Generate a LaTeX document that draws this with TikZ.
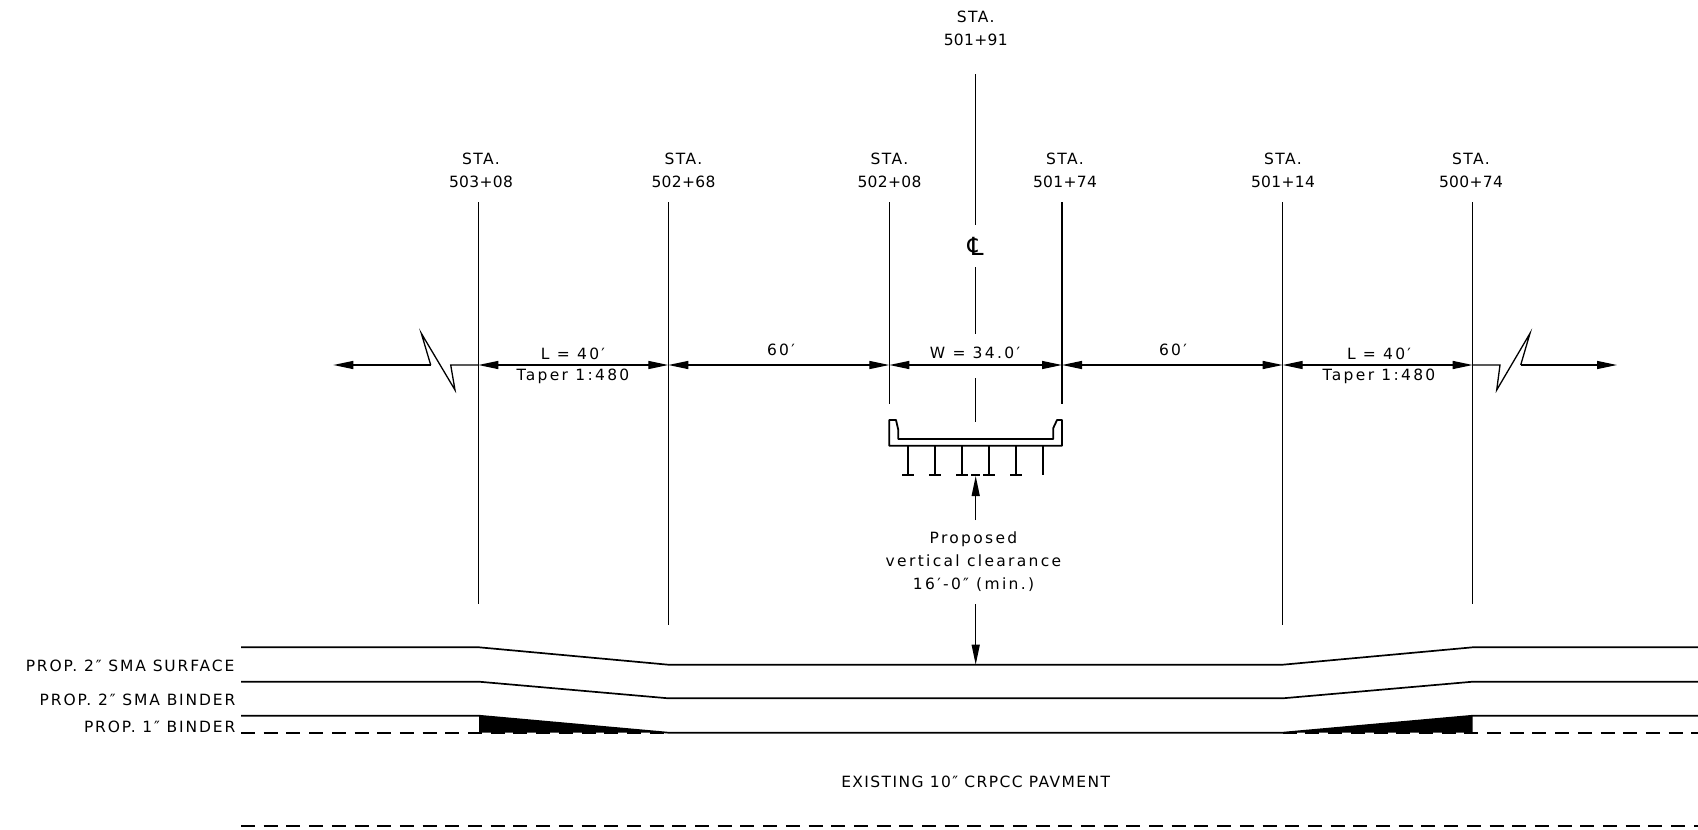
\documentclass[tikz,border=0pt]{standalone}
\usepackage{fontspec}
\setmainfont{DejaVu Sans}
\newfontfamily\capsfont[LetterSpace=9]{DejaVu Sans}
\newfontfamily\widefont[LetterSpace=12]{DejaVu Sans}
\newfontfamily\lowfont[LetterSpace=15]{DejaVu Sans}
\newfontfamily\numfont[LetterSpace=2]{DejaVu Sans}
\usetikzlibrary{arrows.meta}
\begin{document}
\begin{tikzpicture}
[x=1pt, y=-1pt, line width=1.3pt,
lbl/.style={inner sep=0pt, align=center, font=\fontsize{15.5}{23}\capsfont},
side/.style={inner sep=0pt, anchor=east, font=\fontsize{15.5}{23}\widefont},
txt/.style={inner sep=0pt, align=center, font=\fontsize{15.5}{23}\lowfont},
layer/.style={line width=1.7pt},
ground/.style={line width=1.7pt, dash pattern=on 14pt off 8.7pt},
dim/.style={{Triangle[length=20pt,width=8pt]}-{Triangle[length=20pt,width=8pt]}},
tipend/.style={-{Triangle[length=20pt,width=8pt]}},
deck/.style={line width=1.8pt, line join=round}]

\useasboundingbox (0,0) rectangle (1698,830);

% stations
\foreach \n/\x/\ybot/\xl/\sta in {a/478.3/604/481/503+08, b/668.3/625/683.5/502+68, c/889.3/404/889.5/502+08,
  d/1062/404/1065/501+74, e/1282.7/625/1283/501+14, f/1472.7/604/1471/500+74} {
  \coordinate (top\n) at (\x,202);
  \coordinate (bot\n) at (\x,\ybot);
  \coordinate (dim\n) at (\x,365);
  \draw (top\n) -- (bot\n);
  \node[lbl] (sta\n) at (\xl,170) {STA.\\{\numfont\sta}};
}
\node[lbl] (stacl) at (975.7,28) {STA.\\{\numfont 501+91}};

% centerline
\coordinate (cl0) at (975.7,74);
\coordinate (cl1) at (975.7,225);
\coordinate (cl2) at (975.7,267);
\coordinate (cl3) at (975.7,334);
\coordinate (cl4) at (975.7,378);
\coordinate (cl5) at (975.7,422);
\draw (cl0) -- (cl1);
\draw (cl2) -- (cl3);
\draw (cl4) -- (cl5);
\node[inner sep=0pt, font=\fontsize{25}{25}\selectfont] (clsym) at (975.7,246) {℄};

% dimension line
\coordinate (endl) at (333.3,365);
\coordinate (endr) at (1617,365);
\coordinate (zl0) at (430.7,365);
\coordinate (zl1) at (421.3,333.3);
\coordinate (zl2) at (455,390);
\coordinate (zl3) at (450.7,365);
\coordinate (zr0) at (1500,365);
\coordinate (zr1) at (1496.7,390);
\coordinate (zr2) at (1530,333.3);
\coordinate (zr3) at (1520.7,365);
\draw[{Triangle[length=20pt,width=8pt]}-] (endl) -- (zl0);
\draw (zl0) -- (zl1) -- (zl2) -- (zl3) -- (dima);
\draw (dimf) -- (zr0) -- (zr1) -- (zr2) -- (zr3);
\draw[tipend] (zr3) -- (endr);
\draw[dim] (dima) -- (dimb);
\draw[dim] (dimb) -- (dimc);
\draw[dim] (dimc) -- (dimd);
\draw[dim] (dimd) -- (dime);
\draw[dim] (dime) -- (dimf);

\node[txt] (la) at (573,353.5) {L = 40′};
\node[txt] (ta) at (573,376.5) {Taper 1:480};
\node[txt] (sixa) at (781,349.5) {60′};
\node[txt] (wid) at (975,352.5) {W = 34.0′};
\node[txt] (sixb) at (1173,349.5) {60′};
\node[txt] (lb) at (1379,353.5) {L = 40′};
\node[txt] (tb) at (1379,376.5) {Taper 1:480};

% bridge
\draw[deck] (889.3,420) -- (889.3,445.7) -- (1062,445.7) -- (1062,420) -- (1057,420)
  -- (1053.3,428) -- (1053.3,439) -- (898.3,439) -- (898.3,430) -- (896,420) -- cycle;
\foreach \x in {908.3,935.3,962,989,1016} {
  \draw[deck] (\x,445.7) -- (\x,475);
  \draw[deck] (\x-6,475) -- (\x+6,475);
}
\draw[deck] (1042.7,445.7) -- (1042.7,475);

% clearance
\coordinate (clr0) at (975.7,520);
\coordinate (clr1) at (975.7,476);
\coordinate (clr2) at (975.7,604);
\coordinate (clr3) at (975.7,664.7);
\draw[deck] (971,475) -- (980,475);
\draw[tipend] (clr0) -- (clr1);
\draw[tipend] (clr2) -- (clr3);
\node[txt] (clrtxt) at (973.5,561.5) {Proposed\\vertical clearance\\16′-0″ (min.)};

% pavement layers
\foreach \ya/\yb in {647.3/664.7, 681.7/698.3, 715.7/732.7} {
  \draw[layer] (241,\ya) -- (479,\ya) -- (668.3,\yb) -- (1282.7,\yb) -- (1472.7,\ya) -- (1698,\ya);
}
\fill (479,715.7) -- (479,732.7) -- (668.3,732.7) -- cycle;
\fill (1472.7,715.7) -- (1472.7,732.7) -- (1282.7,732.7) -- cycle;
\draw[ground] (241,732.7) -- (668.3,732.7);
\draw[ground] (1282.7,732.7) -- (1698,732.7);
\draw[ground] (241,826) -- (1698,826);

\node[side] (surf) at (235,666) {PROP. 2″ SMA SURFACE};
\node[side] (bind) at (236,699.5) {PROP. 2″ SMA BINDER};
\node[side] (bone) at (236,727) {PROP. 1″ BINDER};
\node[lbl] (exist) at (975.7,781.5) {EXISTING 10″ CRPCC PAVMENT};

\end{tikzpicture}
\end{document}
